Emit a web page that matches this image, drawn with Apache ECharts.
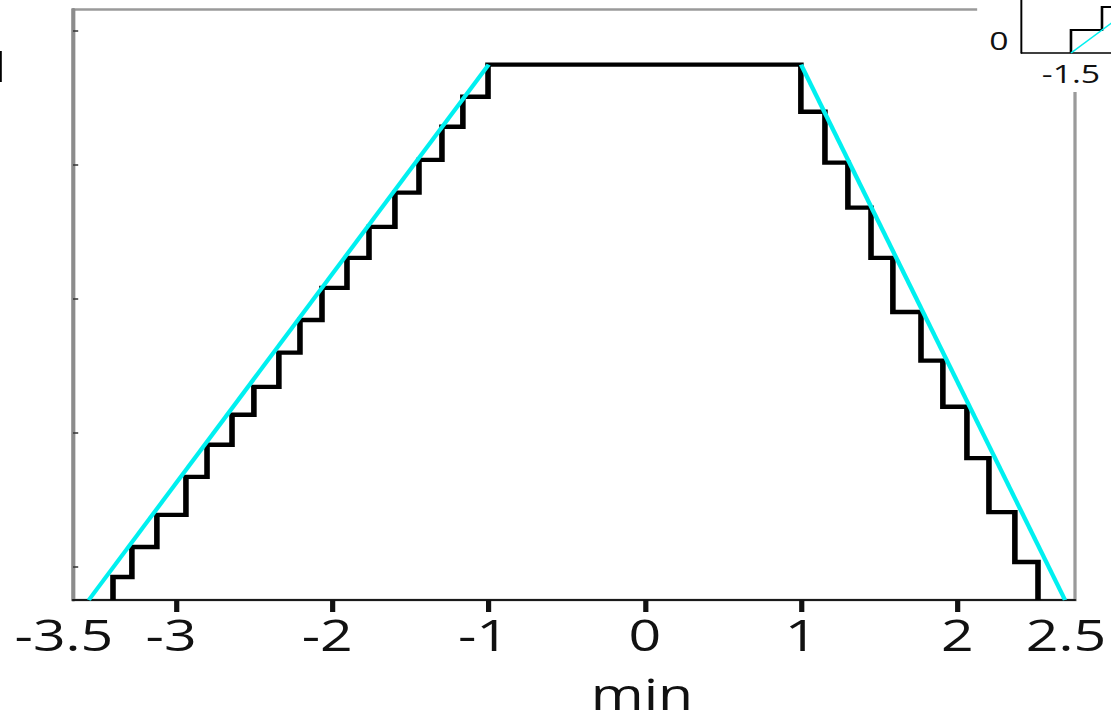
<!DOCTYPE html>
<html><head><meta charset="utf-8">
<script src="https://cdn.jsdelivr.net/npm/echarts@6/dist/echarts.min.js"></script>
<style>
html,body{margin:0;padding:0;background:#fff;overflow:hidden;width:1111px;height:715px}
#chart{width:855px;height:715px;transform:scaleX(1.29942);transform-origin:0 0;}
</style>
</head><body><div id="chart"></div>
<script>
// ---- main axes ----
const xMin = -3.661, xMax = 2.754;
const yMin = 0, yMax = 1.103;
const xTickValues = [-3, -2, -1, 0, 1, 2];
const xLabelTexts = ['-3.5', '-3', '-2', '-1', '0', '1', '2', '2.5'];
const yTickValues = [0.0625, 0.3125, 0.5625, 0.8125, 1.0625];
const yLabelValues = [1];
const xName = 'min';

// ---- staircase (tread start x, tread level) ----
const stepX = [-3.405, -3.405, -3.284, -3.124, -2.938, -2.803, -2.643, -2.503, -2.343, -2.208, -2.067, -1.907, -1.766, -1.600, -1.446, -1.299, -1.165, -1.004,
               0.999, 1.153, 1.300, 1.448, 1.588, 1.768, 1.908, 2.062, 2.203, 2.369, 2.517];
const stepY = [0, 0.043, 0.099, 0.159, 0.230, 0.290, 0.346, 0.398, 0.462, 0.523, 0.583, 0.639, 0.697, 0.761, 0.822, 0.884, 0.940, 1.0,
               0.912, 0.817, 0.733, 0.639, 0.538, 0.447, 0.361, 0.265, 0.164, 0.071, 0];

// ---- trapezoid sides (cyan) ----
const cyanLeftX = [-3.56, -1.0];
const cyanLeftY = [0, 1];
const cyanRightX = [1.0, 2.69];
const cyanRightY = [1, 0];

// ---- inset ----
const insetXMin = -2, insetXMax = -0.5, insetYMin = 0, insetYMax = 1;
const insetXLabels = [-1.5];
const insetYLabels = [0];
const insetStepX = [-1.5, -1.5, -1.186, -0.872];
const insetStepY = [0, 0.150, 0.301, 0.451];
const insetCyanX = [-1.5, -0.5];
const insetCyanY = [0, 0.478];

const zip = (xs, ys) => xs.map((x, i) => [x, ys[i]]);
const FONT = 'Open Sans';
const xLabelValues = [xMin, ...xTickValues, xMax];

const chart = echarts.init(document.getElementById('chart'), null, {renderer: 'svg', width: 855, height: 715});
chart.setOption({
  animation: false,
  backgroundColor: '#fff',
  graphic: [{
    type: 'rect', left: 752, top: 0, z: 1,
    shape: {width: 110, height: 92},
    style: {fill: '#fff'}
  }],
  grid: [
    {left: 56.18, right: 27.7, top: 9.5, bottom: 115, containLabel: false, outerBoundsMode: 'none',
     show: true, borderColor: '#9a9a9a', borderWidth: 2.5, backgroundColor: 'transparent'},
    {left: 786.2, top: -100, width: 114, height: 153, containLabel: false, outerBoundsMode: 'none', show: false}
  ],
  xAxis: [{
    type: 'value', gridIndex: 0, min: xMin, max: xMax,
    axisLine: {show: true, onZero: false, lineStyle: {color: '#1a1a1a', width: 2}},
    axisTick: {show: true, customValues: xTickValues, length: 12, lineStyle: {color: '#111', width: 4}},
    axisLabel: {
      customValues: xLabelValues, margin: 12, fontSize: 44, fontFamily: FONT, color: '#111',
      formatter: (v) => {
        let best = 0;
        xLabelValues.forEach((lv, i) => { if (Math.abs(lv - v) < Math.abs(xLabelValues[best] - v)) best = i; });
        const t = xLabelTexts[best];
        if (best === 0 || best === xLabelValues.length - 1) return '{e|' + t + '}';
        if (t.charAt(0) === '-') return '{n|' + t + '}';
        return t;
      },
      rich: {
        e: {fontSize: 44, fontFamily: FONT, color: '#111', padding: [0, 14, 0, 0]},
        n: {fontSize: 44, fontFamily: FONT, color: '#111', padding: [0, 8, 0, 0]}
      }
    },
    splitLine: {show: false},
    name: xName, nameLocation: 'middle', nameGap: 79,
    nameTextStyle: {fontSize: 44, lineHeight: 28, fontFamily: FONT, color: '#111', padding: [0, 0, 0, 104.6]}
  }, {
    type: 'value', gridIndex: 1, min: insetXMin, max: insetXMax, z: 3,
    axisLine: {show: true, onZero: false, lineStyle: {color: '#000', width: 1.5}},
    axisTick: {show: false},
    axisLabel: {customValues: insetXLabels, margin: 7, fontSize: 26, fontFamily: FONT, color: '#111'},
    splitLine: {show: false}
  }],
  yAxis: [{
    type: 'value', gridIndex: 0, min: yMin, max: yMax,
    axisLine: {show: true, onZero: false, lineStyle: {color: '#8c8c8c', width: 3}},
    axisTick: {show: true, customValues: yTickValues, inside: true, length: 4, lineStyle: {color: '#333', width: 1.5}},
    axisLabel: {customValues: yLabelValues, margin: 45, fontSize: 44, fontFamily: FONT, color: '#000'},
    splitLine: {show: false}
  }, {
    type: 'value', gridIndex: 1, min: insetYMin, max: insetYMax, z: 3,
    axisLine: {show: true, onZero: false, lineStyle: {color: '#000', width: 1.5}},
    axisTick: {show: false},
    axisLabel: {customValues: insetYLabels, margin: 10, fontSize: 26, fontFamily: FONT, color: '#111', verticalAlign: 'bottom'},
    splitLine: {show: false}
  }],
  series: [
    {type: 'line', xAxisIndex: 0, yAxisIndex: 0, step: 'end', symbol: 'none', data: zip(stepX, stepY),
     lineStyle: {color: '#000', width: 4.3, join: 'miter', cap: 'butt'}, z: 2},
    {type: 'line', xAxisIndex: 0, yAxisIndex: 0, symbol: 'none', data: zip(cyanLeftX, cyanLeftY),
     lineStyle: {color: '#00f0f0', width: 3.5}, z: 3},
    {type: 'line', xAxisIndex: 0, yAxisIndex: 0, symbol: 'none', data: zip(cyanRightX, cyanRightY),
     lineStyle: {color: '#00f0f0', width: 3.5}, z: 3},
    {type: 'line', xAxisIndex: 1, yAxisIndex: 1, step: 'end', symbol: 'none', data: zip(insetStepX, insetStepY),
     lineStyle: {color: '#000', width: 2, join: 'miter'}, z: 4},
    {type: 'line', xAxisIndex: 1, yAxisIndex: 1, symbol: 'none', data: zip(insetCyanX, insetCyanY),
     lineStyle: {color: '#00f0f0', width: 1.3}, z: 5}
  ]
});
</script>
</body></html>
